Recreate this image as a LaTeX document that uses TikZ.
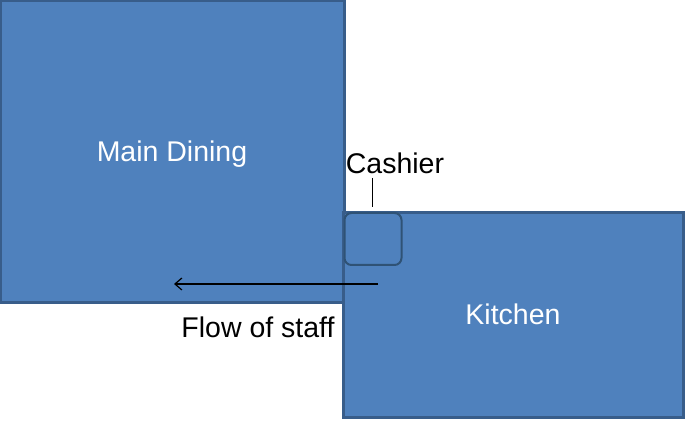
\documentclass[tikz,border=0pt]{standalone}
\usepackage{fontspec}
\setmainfont{Liberation Sans}
\usepackage{xcolor}
\usetikzlibrary{arrows.meta,positioning}

\definecolor{roomblue}{HTML}{4F81BD}
\definecolor{roomedge}{HTML}{385D8A}
\definecolor{deskedge}{HTML}{2F5275}

\begin{document}
\begin{tikzpicture}[x=1pt,y=1pt,
room/.style={draw=roomedge, line width=2.2pt, fill=roomblue, inner sep=0pt, text=white, font=\fontsize{28.5}{32}\selectfont},
desk/.style={draw=deskedge, line width=2pt, fill=roomblue, rounded corners=7pt, inner sep=0pt},
label/.style={font=\fontsize{28.5}{32}\selectfont, inner sep=0pt},
arrow/.style={-{Straight Barb[length=7pt,width=12pt]}, line width=1.2pt}
]
\useasboundingbox (0,0) rectangle (691,422);

% Rooms
\node[room, minimum width=344pt, minimum height=302pt] (dining) at (172.5,270.5) {};
\node[room, minimum width=340pt, minimum height=205pt] (kitchen) at (513.5,107) {};

% Room names
\node[text=white, label] (diningtext) at (172,268) {Main Dining};
\node[text=white, label] (kitchentext) at (513,108) {Kitchen};

% Cashier desk
\node[desk, minimum width=57pt, minimum height=52pt] (cashier) at (373,183) {};
\node[label] (cashiertext) at (395,259) {Cashier};
\coordinate (cashiertop) at (372,244);
\draw[line width=1pt, shorten >=5pt] (cashiertop) -- (cashiertop |- cashier.north);

% Flow of staff
\coordinate (flowstart) at (378,138);
\coordinate (flowend) at (174,138);
\draw[arrow] (flowstart) -- (flowend);
\node[label] (flowtext) at (258,95) {Flow of staff};

\end{tikzpicture}
\end{document}
